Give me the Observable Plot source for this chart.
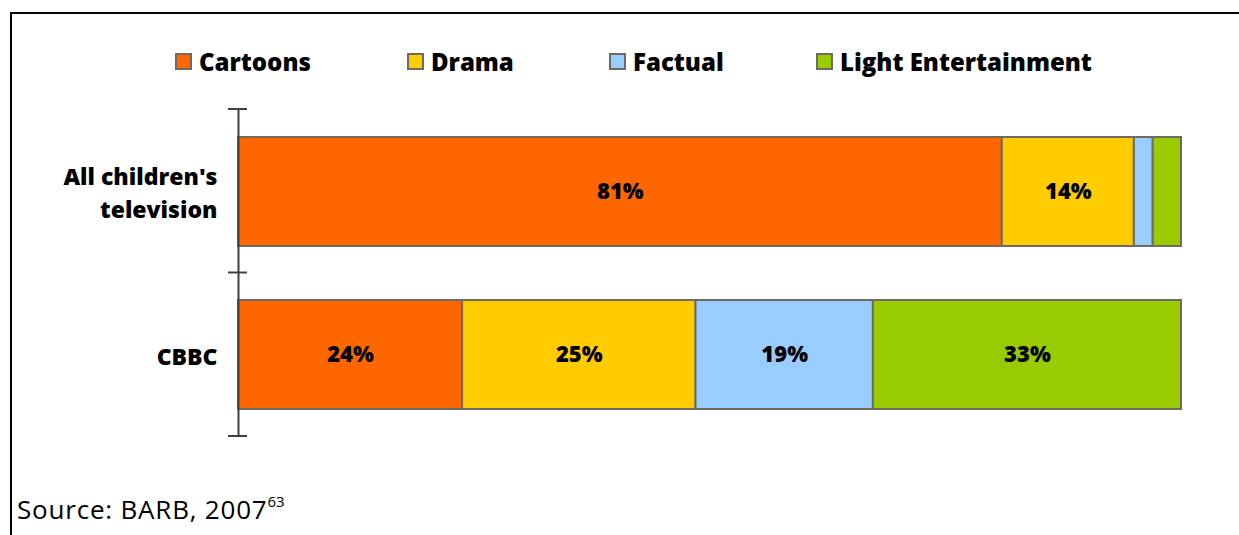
<!DOCTYPE html>
<html>
<head>
<meta charset="utf-8">
<script src="https://cdn.jsdelivr.net/npm/d3@7"></script>
<script src="https://cdn.jsdelivr.net/npm/@observablehq/plot@0.6"></script>
<style>
  html, body { margin: 0; padding: 0; background: #fff; }
  #wrap { position: relative; width: 1239px; height: 535px; overflow: hidden; font-family: "Open Sans", Lato, sans-serif; }
  #frame { position: absolute; left: 10px; top: 12px; right: 0; bottom: 0; border-top: 2px solid #000; border-left: 2px solid #000; }
  #legend { position: absolute; top: 44px; left: 0; width: 1239px; height: 34px; }
  .item { position: absolute; top: 0; display: flex; align-items: center; height: 34px; font-weight: 800; font-size: 24px; color: #000; }
  .sw { width: 13px; height: 13px; border: 2px solid #6f6b63; margin-right: 7px; }
  #plot { position: absolute; left: 0; top: 95px; }
  #source { position: absolute; left: 17px; top: 491px; font-size: 26px; letter-spacing: 0.8px; color: #000; }
  #source sup { font-size: 15px; vertical-align: 12px; letter-spacing: 0; }
</style>
</head>
<body>
<div id="wrap">
  <div id="frame"></div>
  <div id="legend"></div>
  <div id="plot"></div>
  <div id="source">Source: BARB, 2007<sup>63</sup></div>
</div>
<script>
const categories = ["All children's television", "CBBC"];
const categoryLabels = ["All children's\ntelevision", "CBBC"];
const series = ["Cartoons", "Drama", "Factual", "Light Entertainment"];
const allChildrenValues = [81, 14, 2, 3];
const cbbcValues = [24, 25, 19, 33];
const colors = ["#FF6600", "#FFCC00", "#99CCFF", "#99CC00"];
const legendLeft = [175, 407, 609, 816];

const data = [];
series.forEach((s, i) => data.push({category: categories[0], series: s, value: allChildrenValues[i]}));
series.forEach((s, i) => data.push({category: categories[1], series: s, value: cbbcValues[i]}));

// legend
const legend = document.getElementById("legend");
series.forEach((s, i) => {
  const it = document.createElement("div");
  it.className = "item";
  it.style.left = legendLeft[i] + "px";
  const sw = document.createElement("div");
  sw.className = "sw";
  sw.style.background = colors[i];
  it.appendChild(sw);
  it.appendChild(document.createTextNode(s));
  legend.appendChild(it);
});

const stackOpts = {offset: "normalize", order: series};

// category-boundary ticks on the y axis (band scale with paddingOuter = paddingInner/2,
// so boundaries divide the frame evenly)
function bandTicks(index, scales, values, dimensions) {
  const {height, marginTop, marginBottom} = dimensions;
  const x0 = scales.x(0);
  const n = categories.length;
  const h = height - marginTop - marginBottom;
  const bounds = d3.range(n + 1).map(i => marginTop + (h * i) / n);
  const g = d3.create("svg:g");
  g.selectAll("line").data(bounds).join("line")
    .attr("x1", x0 - 10).attr("x2", x0 + 9)
    .attr("y1", d => d).attr("y2", d => d)
    .attr("stroke", "#404040").attr("stroke-width", 2);
  return g.node();
}

const chart = Plot.plot({
  width: 1239,
  height: 360,
  marginLeft: 238,
  marginRight: 58,
  marginTop: 14,
  marginBottom: 19,
  style: {fontFamily: '"Open Sans", Lato, sans-serif', background: "transparent", overflow: "visible"},
  x: {axis: null, domain: [0, 1]},
  y: {axis: null, domain: categories, paddingInner: 0.333, paddingOuter: 0.1667},
  color: {domain: series, range: colors},
  marks: [
    Plot.barX(data, Plot.stackX({x: "value", y: "category", fill: "series", stroke: "#6f6b63", strokeWidth: 2, ...stackOpts})),
    Plot.text(data, Plot.stackX({x: "value", y: "category", z: "series", text: d => d.value >= 5 ? d.value + "%" : "", fontSize: 22, fontWeight: 800, fill: "#000", ...stackOpts})),
    Plot.ruleX([0], {stroke: "#404040", strokeWidth: 2}),
    bandTicks,
    Plot.text(categories, {x: () => 0, y: d => d, text: (d, i) => categoryLabels[i], dx: -21, dy: -1, textAnchor: "end", fontSize: 23, fontWeight: 800, fill: "#000", lineHeight: 1.45})
  ]
});
document.getElementById("plot").appendChild(chart);
</script>
</body>
</html>
